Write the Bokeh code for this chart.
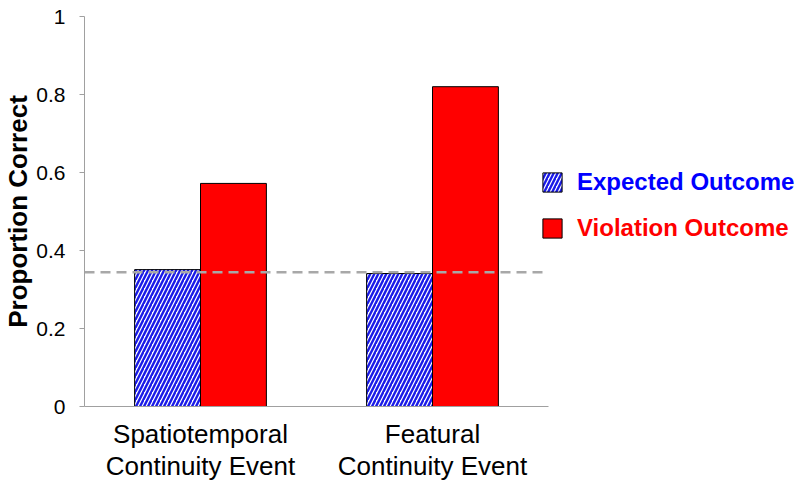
import numpy as np
from bokeh.plotting import figure
from bokeh.models import (ColumnDataSource, Range1d, FixedTicker, NumeralTickFormatter,
                          Legend, LegendItem)
from bokeh.embed import file_html
from bokeh.resources import INLINE

# ---- data ----
categories = ["Spatiotemporal\nContinuity Event", "Featural\nContinuity Event"]
expected = [0.351, 0.341]
violation = [0.572, 0.82]
chance_level = 0.344
series_names = ["Expected Outcome", "Violation Outcome"]
y_ticks = [0, 0.2, 0.4, 0.6, 0.8, 1]

FONT = "Liberation Sans"

n = len(categories)
centers = np.arange(n) + 0.5
bar_w = 0.284

src = ColumnDataSource(dict(
    x_exp=centers - bar_w / 2, x_vio=centers + bar_w / 2,
    expected=expected, violation=violation))

px_per_cat = 232
frame_w = 716
p = figure(x_range=Range1d(0, frame_w / px_per_cat), y_range=(0, 1),
           frame_width=frame_w, frame_height=390, width=798, height=484,
           output_backend="svg", toolbar_location=None,
           min_border_left=0, min_border_top=16, min_border_right=0, min_border_bottom=0)
p.outline_line_color = None
p.grid.visible = False
p.background_fill_color = "white"
p.border_fill_color = "white"

r_exp = p.vbar(x="x_exp", top="expected", width=bar_w, source=src,
               fill_color="white", hatch_pattern="/", hatch_color="#1a1ae8",
               hatch_scale=8, hatch_weight=2.4, line_color="black", line_width=1)
r_vio = p.vbar(x="x_vio", top="violation", width=bar_w, source=src,
               fill_color="#ff0000", line_color="black", line_width=1)

# chance line across the category span
p.segment(x0=[0], x1=[n], y0=[chance_level], y1=[chance_level],
          line_color="#a8a8a8", line_width=2.5, line_dash="10 6")

# y axis
ya = p.yaxis[0]
ya.ticker = FixedTicker(ticks=y_ticks)
ya.formatter = NumeralTickFormatter(format="0.[0]")
ya.minor_tick_line_color = None
ya.major_tick_in = 0
ya.major_tick_out = 5
ya.major_tick_line_color = "#a0a0a0"
ya.axis_line_color = "#a0a0a0"
ya.major_label_text_font = FONT
ya.major_label_text_font_size = "21px"
ya.major_label_text_color = "black"
ya.major_label_standoff = 14
ya.axis_label = "Proportion Correct"
ya.axis_label_text_font = FONT
ya.axis_label_text_font_size = "26px"
ya.axis_label_text_font_style = "bold"
ya.axis_label_text_color = "black"
ya.axis_label_standoff = 0

# x axis
xa = p.xaxis[0]
xa.ticker = FixedTicker(ticks=list(centers))
xa.major_label_overrides = {float(c): lab for c, lab in zip(centers, categories)}
xa.bounds = (0, n)
xa.major_tick_line_color = None
xa.minor_tick_line_color = None
xa.axis_line_color = "#a0a0a0"
xa.major_label_text_font = FONT
xa.major_label_text_font_size = "26px"
xa.major_label_text_color = "black"
xa.major_label_text_line_height = 1.08
xa.major_label_standoff = 6

def mk_legend(label, renderer, color, loc):
    return Legend(items=[LegendItem(label=label, renderers=[renderer])], location=loc,
                  glyph_width=24, glyph_height=24, label_standoff=13, label_height=24,
                  padding=0, margin=0, border_line_color=None, background_fill_alpha=0,
                  label_text_font=FONT, label_text_font_size="24px",
                  label_text_font_style="bold", label_text_color=color)

p.add_layout(mk_legend(series_names[0], r_exp, "#0000ff", (456, 210)))
p.add_layout(mk_legend(series_names[1], r_vio, "#ff0000", (456, 164)))

open("out.html", "w").write(file_html(p, INLINE))
